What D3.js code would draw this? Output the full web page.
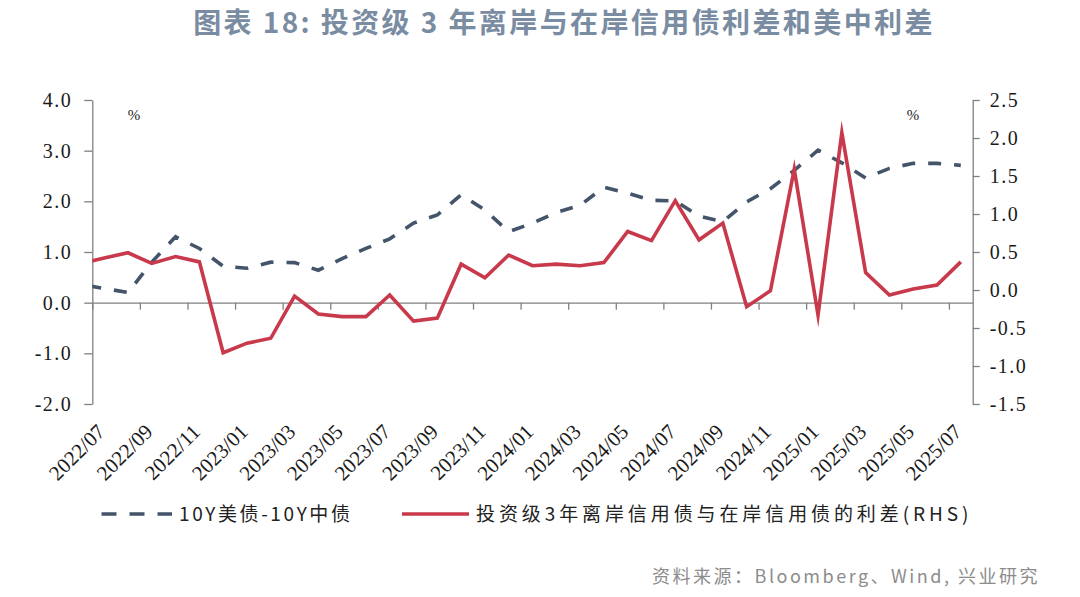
<!DOCTYPE html>
<html><head><meta charset="utf-8">
<script src="https://cdn.jsdelivr.net/npm/d3@7"></script>
<style>
html,body{margin:0;padding:0;background:#fff;}
svg{display:block;}
</style></head>
<body>
<svg id="c" width="1080" height="597"></svg>
<script>
// ---- data ----
const months = ["2022/06","2022/07","2022/08","2022/09","2022/10","2022/11","2022/12",
  "2023/01","2023/02","2023/03","2023/04","2023/05","2023/06","2023/07","2023/08","2023/09","2023/10","2023/11","2023/12",
  "2024/01","2024/02","2024/03","2024/04","2024/05","2024/06","2024/07","2024/08","2024/09","2024/10","2024/11","2024/12",
  "2025/01","2025/02","2025/03","2025/04","2025/05","2025/06","2025/07"];
const usCnSpread = [0.36,0.28,0.20,0.80,1.30,1.07,0.72,
  0.68,0.80,0.79,0.64,0.87,1.07,1.26,1.57,1.73,2.13,1.83,1.40,
  1.57,1.78,1.92,2.28,2.16,2.02,2.01,1.71,1.60,1.99,2.25,2.61,
  3.01,2.76,2.46,2.65,2.75,2.75,2.71];
const offOnSpread = [0.35,0.42,0.49,0.35,0.44,0.37,-0.825,
  -0.70,-0.635,-0.08,-0.315,-0.35,-0.35,-0.065,-0.41,-0.37,0.34,0.16,0.46,
  0.32,0.34,0.32,0.36,0.77,0.65,1.175,0.66,0.88,-0.22,-0.01,1.59,
  -0.33,2.07,0.23,-0.065,0.013,0.065,0.37];
const xTickLabels = ["2022/07","2022/09","2022/11","2023/01","2023/03","2023/05","2023/07","2023/09","2023/11",
  "2024/01","2024/03","2024/05","2024/07","2024/09","2024/11","2025/01","2025/03","2025/05","2025/07"];
const leftTicks = [4.0,3.0,2.0,1.0,0.0,-1.0,-2.0];
const rightTicks = [2.5,2.0,1.5,1.0,0.5,0.0,-0.5,-1.0,-1.5];
const seriesNames = ["10Y美债-10Y中债","投资级3年离岸信用债与在岸信用债的利差(RHS)"];
const titleText = "图表 18: 投资级 3 年离岸与在岸信用债利差和美中利差";
const sourceText = "资料来源：Bloomberg、Wind, 兴业研究";

// ---- layout ----
const svg = d3.select("#c");
const L = 92.3, R = 972.7, T = 100, B = 404;
const firstMonth = "2022/07", nBands = 37;
const idx = m => months.indexOf(m) - months.indexOf(firstMonth);
const x = d3.scaleLinear().domain([0, nBands]).range([L, R]);
const yL = d3.scaleLinear().domain([-2, 4]).range([B, T]);
const yR = d3.scaleLinear().domain([-1.5, 2.5]).range([B, T]);
const axisColor = "#808080";
const navy = "#44546A", red = "#C8394B";
const serif = "'Liberation Serif','Times New Roman',serif";
const cjk = "'Noto Sans CJK SC','Noto Sans',sans-serif";

// title
svg.append("text").attr("x", 564).attr("y", 33).attr("text-anchor", "middle")
  .attr("font-family", cjk).attr("font-weight", "bold").attr("font-size", 28)
  .attr("letter-spacing", 2.4).attr("fill", "#7A8CA2").text(titleText);

// clip
svg.append("clipPath").attr("id", "plot").append("rect")
  .attr("x", L).attr("y", 0).attr("width", R - L).attr("height", 597);

// left axis
const gL = svg.append("g").attr("transform", `translate(${L},0)`)
  .call(d3.axisLeft(yL).tickValues(leftTicks).tickFormat(d => d.toFixed(1)).tickSize(8).tickSizeOuter(0).tickPadding(12));
// right axis
const gR = svg.append("g").attr("transform", `translate(${R},0)`)
  .call(d3.axisRight(yR).tickValues(rightTicks).tickFormat(d => d.toFixed(1)).tickSize(7).tickSizeOuter(0).tickPadding(10));
[gL, gR].forEach(g => {
  g.selectAll("path,line").attr("stroke", axisColor).attr("stroke-width", 1.3);
  g.selectAll("text").attr("font-family", serif).attr("font-size", 20)
    .attr("letter-spacing", 1.5).attr("fill", "#1a1a1a");
});

// x axis at zero of left axis
const xTickIdx = xTickLabels.map(idx);
const gX = svg.append("g").attr("transform", `translate(0,${yL(0)})`)
  .call(d3.axisBottom(x).tickValues(xTickIdx).tickFormat("").tickSize(7).tickSizeOuter(0));
gX.selectAll("path,line").attr("stroke", axisColor).attr("stroke-width", 1.3);

// x labels
svg.append("g").selectAll("text").data(xTickLabels).join("text")
  .attr("transform", d => `translate(${x(idx(d)) + 14},${433}) rotate(-45)`)
  .attr("text-anchor", "end")
  .attr("font-family", serif).attr("font-size", 21).attr("fill", "#1a1a1a")
  .text(d => d);

// % labels
svg.append("text").attr("x", 134).attr("y", 120).attr("text-anchor", "middle")
  .attr("font-family", serif).attr("font-size", 15).attr("fill", "#222").text("%");
svg.append("text").attr("x", 913).attr("y", 120).attr("text-anchor", "middle")
  .attr("font-family", serif).attr("font-size", 15).attr("fill", "#222").text("%");

// lines
const plot = svg.append("g").attr("clip-path", "url(#plot)");
const lineL = d3.line().x((d, i) => x(idx(months[i]) + 0.5)).y(d => yL(d));
const lineR = d3.line().x((d, i) => x(idx(months[i]) + 0.5)).y(d => yR(d));
plot.append("path").datum(usCnSpread).attr("d", lineL)
  .attr("fill", "none").attr("stroke", navy).attr("stroke-width", 3.6)
  .attr("stroke-dasharray", "13,13").attr("stroke-dashoffset", -8);
plot.append("path").datum(offOnSpread).attr("d", lineR)
  .attr("fill", "none").attr("stroke", red).attr("stroke-width", 3.6)
  .attr("stroke-linejoin", "miter").attr("stroke-miterlimit", 10);

// legend
const lg = svg.append("g");
lg.append("line").attr("x1", 101.5).attr("x2", 172).attr("y1", 514).attr("y2", 514)
  .attr("stroke", navy).attr("stroke-width", 3.6).attr("stroke-dasharray", "15,13");
lg.append("text").attr("x", 179).attr("y", 521).attr("font-family", cjk).attr("font-size", 19)
  .attr("letter-spacing", 2.6).attr("fill", "#222").text(seriesNames[0]);
lg.append("line").attr("x1", 402).attr("x2", 469).attr("y1", 514).attr("y2", 514)
  .attr("stroke", red).attr("stroke-width", 3.6);
lg.append("text").attr("x", 476).attr("y", 521).attr("font-family", cjk).attr("font-size", 19)
  .attr("letter-spacing", 3.9).attr("fill", "#222").text(seriesNames[1]);

// source
svg.append("text").attr("x", 1040).attr("y", 583).attr("text-anchor", "end")
  .attr("font-family", cjk).attr("font-size", 18).attr("letter-spacing", 2.5)
  .attr("fill", "#8C8C8C").text(sourceText);
</script>
</body></html>
